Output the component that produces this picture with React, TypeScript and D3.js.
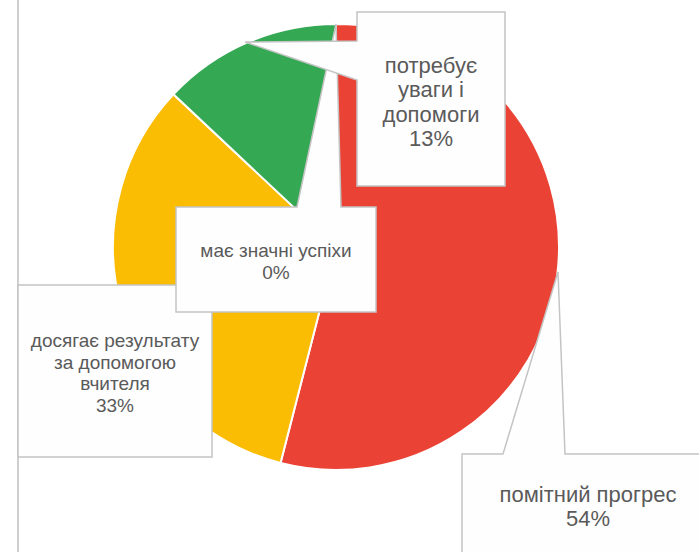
import React from "react";
import * as d3 from "d3";

const categories = ["помітний прогрес", "досягає результату за допомогою вчителя", "потребує уваги і допомоги", "має значні успіхи"];
const values = [54, 33, 13, 0];
const percentLabels = ["54%", "33%", "13%", "0%"];
const labelLines = [
  ["помітний прогрес"],
  ["досягає результату", "за допомогою", "вчителя"],
  ["потребує", "уваги і", "допомоги"],
  ["має значні успіхи"],
];
const colors = ["#EA4335", "#FBBC04", "#34A853", "#4285F4"];

const W = 699;
const H = 552;
const cx = 336;
const cy = 247;
const R = 223;

// callout geometry (layout only)
const callouts = [
  { // помітний прогрес
    shape: [[462, 454], [503, 454], [558, 272], [565, 454], [715, 454], [715, 600], [462, 600]],
    tx: 588, ty: 502, fs: 22, lh: 23.5,
  },
  { // досягає
    shape: [[18, 285], [212, 285], [212, 457], [18, 457]],
    tx: 115, ty: 347, fs: 19, lh: 21.5,
  },
  { // потребує
    shape: [[357, 12], [505, 12], [505, 186], [357, 186], [357, 80], [245, 42], [357, 41]],
    tx: 431, ty: 73, fs: 22, lh: 24.4,
  },
  { // має значні успіхи
    shape: [[176, 207], [297, 207], [336, 24], [341, 207], [376, 207], [376, 312], [176, 312]],
    tx: 276, ty: 257, fs: 19, lh: 22,
  },
];
const drawOrder = [1, 3, 2, 0];

export default function App() {
  const pie = d3.pie<number>().sort(null).value((d) => d)(values);
  const arc = d3.arc<d3.PieArcDatum<number>>().innerRadius(0).outerRadius(R);
  const poly = d3.line().curve(d3.curveLinearClosed);
  return (
    <svg
      width={W}
      height={H}
      style={{ position: "absolute", left: 0, top: 0, background: "#fff" }}
      fontFamily="'Liberation Sans', Arial, sans-serif"
    >
      <line x1={18} y1={0} x2={18} y2={H} stroke="#cfcfcf" strokeWidth={2} />
      <g transform={`translate(${cx},${cy})`}>
        {pie.map((p, i) => (
          <path key={i} d={arc(p) || ""} fill={colors[i]} stroke="#fff" strokeWidth={2} />
        ))}
      </g>
      {drawOrder.map((i) => {
        const c = callouts[i];
        const lines = [...labelLines[i], percentLabels[i]];
        return (
          <g key={i}>
            <path d={poly(c.shape as [number, number][]) || ""} fill="#fefefe" stroke="#c4c4c4" strokeWidth={1.5} />
            <text textAnchor="middle" fill="#5a5a5a" fontSize={c.fs}>
              {lines.map((t, k) => (
                <tspan key={k} x={c.tx} y={c.ty + k * c.lh}>{t}</tspan>
              ))}
            </text>
          </g>
        );
      })}
    </svg>
  );
}
